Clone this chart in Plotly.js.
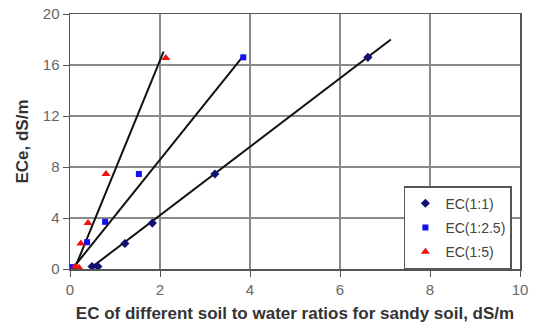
<!DOCTYPE html>
<html><head><meta charset="utf-8">
<script src="https://cdn.plot.ly/plotly-3.0.1.min.js"></script>
<style>html,body{margin:0;padding:0;background:#fff;}#chart{width:536px;height:335px;}</style>
</head><body><div id="chart"></div>
<script>
// Data
const ec11_x = [0.49, 0.62, 1.22, 1.83, 3.22, 6.62];
const ec11_y = [0.2, 0.2, 2.0, 3.6, 7.45, 16.6];
const ec125_x = [0.02, 0.38, 0.78, 1.53, 3.85];
const ec125_y = [0.15, 2.1, 3.7, 7.45, 16.6];
const ec15_x = [0.12, 0.2, 0.24, 0.4, 0.8, 2.13];
const ec15_y = [0.2, 0.1, 2.0, 3.6, 7.45, 16.55];
// trend line endpoints
const fit11_x = [0.45, 7.13];
const fit11_y = [0.05, 18.0];
const fit125_x = [0.05, 3.87];
const fit125_y = [0.0, 16.8];
const fit15_x = [0.1, 2.08];
const fit15_y = [0.0, 17.05];
const seriesNames = ['EC(1:1)', 'EC(1:2.5)', 'EC(1:5)'];
const xTicks = [0, 2, 4, 6, 8, 10];
const yTicks = [0, 4, 8, 12, 16, 20];

const lineStyle = {color: '#111', width: 2};
const traces = [
  {x: fit11_x, y: fit11_y, mode: 'lines', line: lineStyle, showlegend: false, hoverinfo: 'skip'},
  {x: fit125_x, y: fit125_y, mode: 'lines', line: lineStyle, showlegend: false, hoverinfo: 'skip'},
  {x: fit15_x, y: fit15_y, mode: 'lines', line: lineStyle, showlegend: false, hoverinfo: 'skip'},
  {x: ec11_x, y: ec11_y, mode: 'markers', name: seriesNames[0], legendgroup: 'a',
   marker: {symbol: 'diamond', size: 7, color: '#101070'}},
  {x: ec125_x, y: ec125_y, mode: 'markers', name: seriesNames[1], legendgroup: 'b',
   marker: {symbol: 'square', size: 6, color: '#1010f0'}},
  {x: ec15_x, y: ec15_y, mode: 'markers', name: seriesNames[2], legendgroup: 'c',
   marker: {symbol: 'triangle-up', size: 8, color: '#f01010'}}
];

const layout = {
  width: 536, height: 335,
  margin: {l: 70, r: 16, t: 14, b: 66},
  paper_bgcolor: '#fff', plot_bgcolor: '#fff',
  font: {family: 'Liberation Sans, Arial, sans-serif', size: 12, color: '#555'},
  xaxis: {
    range: [0, 10], tickvals: xTicks, ticktext: xTicks.map(String),
    showgrid: true, gridcolor: '#8a8a8a', gridwidth: 1.5,
    zeroline: false, showline: true, linecolor: '#555', linewidth: 1.5, mirror: true,
    ticks: 'outside', ticklen: 6, tickcolor: '#555',
    tickfont: {size: 15, color: '#666'},
    automargin: false,
    title: {text: 'EC of different soil to water ratios for sandy soil, dS/m',
            font: {size: 17, color: '#333', weight: 'bold'}, standoff: 10}
  },
  yaxis: {
    range: [0, 20], tickvals: yTicks, ticktext: yTicks.map(String),
    showgrid: true, gridcolor: '#8a8a8a', gridwidth: 1.5,
    zeroline: false, showline: true, linecolor: '#555', linewidth: 1.5, mirror: true,
    ticks: 'outside', ticklen: 6, tickcolor: '#555',
    tickfont: {size: 15, color: '#666'},
    automargin: false,
    title: {text: 'ECe, dS/m', font: {size: 17, color: '#333', weight: 'bold'}, standoff: 10}
  },
  showlegend: true,
  legend: {
    x: 0.982, y: 0.325, xanchor: 'right', yanchor: 'top',
    bgcolor: '#fff', bordercolor: '#555', borderwidth: 1.5,
    font: {size: 14, color: '#444'}, itemwidth: 30, tracegroupgap: 3
  }
};
Plotly.newPlot('chart', traces, layout, {displayModeBar: false, staticPlot: true});
</script></body></html>
